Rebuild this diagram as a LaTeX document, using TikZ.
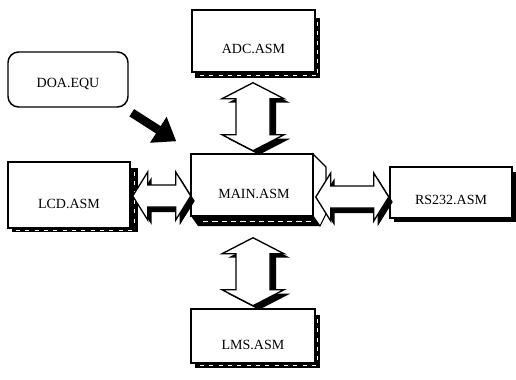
\documentclass[tikz,border=0pt]{standalone}
\usepackage{fontspec}
\setmainfont{Liberation Serif}
\usetikzlibrary{calc,arrows.meta}
\tikzset{
  box/.style={draw=black, line width=1.1pt, fill=white, inner sep=0pt},
  rbox/.style={box, rounded corners=8pt},
  lbl/.style={font=\fontsize{10.5}{12}\selectfont, inner sep=0pt},
  shadestrip/.style={fill=black},
  dblshape/.style={draw=black, line width=1pt, fill=white, line join=miter},
  dblshadow/.style={fill=black},
  bigarrow/.style={line width=6.5pt, -{Triangle[length=16pt,width=22pt]}}
}
% horizontal double arrow: #1 left tip, #2 length (px)
\newcommand\hdblarrow[2]{%
  \begin{scope}[shift={(#1)}]
    \fill[dblshadow, shift={(4,5)}] (0,0)--(15,-24)--(15,-11)--({#2-15},-11)--({#2-15},-24)--(#2,0)--({#2-15},24)--({#2-15},11)--(15,11)--(15,24)--cycle;
    \draw[dblshape] (0,0)--(15,-24)--(15,-11)--({#2-15},-11)--({#2-15},-24)--(#2,0)--({#2-15},24)--({#2-15},11)--(15,11)--(15,24)--cycle;
  \end{scope}}
% vertical double arrow: #1 top tip, #2 length (px)
\newcommand\vdblarrow[2]{%
  \begin{scope}[shift={(#1)}]
    \fill[dblshadow, shift={(6,4)}] (0,0)--(31,16)--(17,16)--(17,{#2-16})--(31,{#2-16})--(0,#2)--(-31,{#2-16})--(-17,{#2-16})--(-17,16)--(-31,16)--cycle;
    \draw[dblshape] (0,0)--(31,16)--(17,16)--(17,{#2-16})--(31,{#2-16})--(0,#2)--(-31,{#2-16})--(-17,{#2-16})--(-17,16)--(-31,16)--cycle;
  \end{scope}}
\begin{document}
\begin{tikzpicture}[x=0.75pt,y=-0.75pt]
\useasboundingbox (0,0) rectangle (516,379);

% shadows of boxes
\fill[shadestrip] (315,18) rectangle (320,78);
\fill[shadestrip] (195,72) rectangle (320,78);
\fill[shadestrip] (130,168) rectangle (138,232);
\fill[shadestrip] (12,228) rectangle (138,232);
\fill[shadestrip] (512,172) rectangle (516,222);
\fill[shadestrip] (394,218) rectangle (516,222);
\fill[shadestrip] (315,315) rectangle (320,368);
\fill[shadestrip] (195,363) rectangle (320,368);
\draw[white, line width=0.6pt, dash pattern=on 3pt off 4pt] (317.5,22) -- (317.5,74) (200,75) -- (316,75);
\draw[white, line width=0.6pt, dash pattern=on 3pt off 4pt] (134,172) -- (134,228) (16,230) -- (134,230);
\draw[white, line width=0.6pt, dash pattern=on 3pt off 4pt] (317.5,319) -- (317.5,364) (200,365.5) -- (316,365.5);

% MAIN 3D bevel
\filldraw[black, line width=0.8pt, fill=white] (313,154) -- (326,167) -- (326,214) -- (320,226) -- (313,216) -- cycle;
\fill[black] (191,216) -- (313,216) -- (320,226) -- (198,226) -- cycle;
\draw[white, line width=0.6pt, dash pattern=on 4pt off 3pt] (203,221) -- (312,221);

% boxes
\node[box, minimum width=92.25pt, minimum height=46.5pt] (adc) at (253.5,41) {};
\node[box, minimum width=91.5pt, minimum height=46.5pt] (main) at (252,185) {};
\node[box, minimum width=91.5pt, minimum height=49.5pt] (lcd) at (69,195) {};
\node[box, minimum width=91.5pt, minimum height=38.25pt] (rs) at (451,192.5) {};
\node[box, minimum width=93pt, minimum height=40.5pt] (lms) at (253,336) {};
\node[rbox, minimum width=90pt, minimum height=41.25pt] (doa) at (68,79.5) {};

% labels
\node[lbl] (tadc) at ($(adc.center)+(0,8)$) {ADC.ASM};
\node[lbl] (tmain) at ($(main.center)+(2,9)$) {MAIN.ASM};
\node[lbl] (tlcd) at ($(lcd.center)+(0,9)$) {LCD.ASM};
\node[lbl] (trs) at ($(rs.center)+(0,7)$) {RS232.ASM};
\node[lbl] (tlms) at ($(lms.center)+(0,9)$) {LMS.ASM};
\node[lbl] (tdoa) at ($(doa.center)+(0,4)$) {DOA.EQU};

% connector anchor coordinates
\coordinate (a1) at ($(adc.south)+(-0.5,10)$);
\coordinate (a2) at ($(main.south)+(1,21)$);
\coordinate (a3) at ($(lcd.east)+(2,1)$);
\coordinate (a4) at ($(main.east)+(2,12)$);
\coordinate (d1) at ($(doa.south east)+(3,5)$);
\coordinate (d2) at ($(main.north west)+(-14,-12)$);

% double arrows
\vdblarrow{a1}{68}
\vdblarrow{a2}{68}
\hdblarrow{a3}{58}
\hdblarrow{a4}{73}

% DOA arrow
\draw[bigarrow] (d1) -- (d2);
\end{tikzpicture}
\end{document}
